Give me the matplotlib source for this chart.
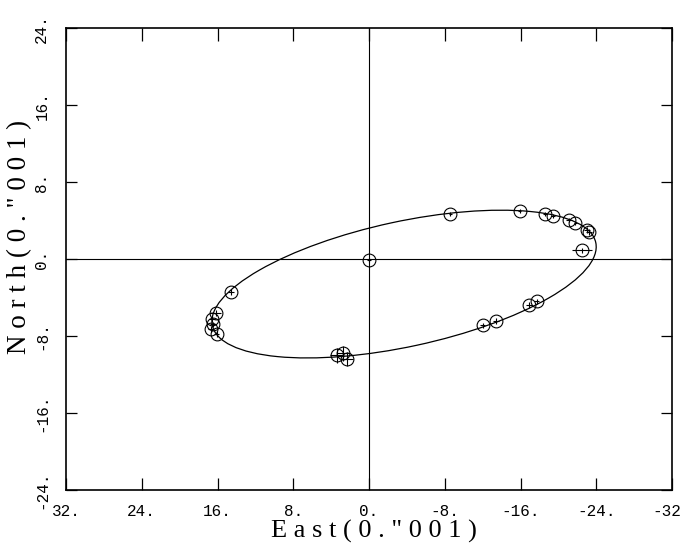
import matplotlib.pyplot as plt
from matplotlib.patches import Ellipse

# relative positions of the companion, units of 0.001 arcsec
east = [0.0, 14.6, 16.2, 16.6, 16.5, 16.7, 16.1, 3.4, 2.7, 2.3,
        -8.6, -15.9, -18.6, -19.4, -21.1, -21.8, -23.0, -23.2, -22.5,
        -17.7, -16.9, -13.4, -12.0]
north = [-0.1, -3.4, -5.6, -6.2, -6.8, -7.3, -7.8, -10.0, -9.8, -10.4,
         4.7, 5.0, 4.7, 4.5, 4.1, 3.7, 3.0, 2.8, 0.9,
         -4.4, -4.8, -6.4, -6.9]
east_err = [0.2, 0.3, 0.6, 0.3, 0.3, 0.3, 0.3, 0.7, 0.7, 0.6,
            0.2, 0.2, 0.2, 0.2, 0.3, 0.2, 0.3, 0.3, 1.1,
            0.3, 0.3, 0.3, 0.3]
north_err = [0.2, 0.3, 0.3, 0.3, 0.3, 0.3, 0.3, 0.8, 0.8, 0.7,
             0.2, 0.2, 0.2, 0.2, 0.2, 0.2, 0.3, 0.3, 0.3,
             0.3, 0.3, 0.3, 0.3]

# apparent orbit (fitted ellipse)
orbit_center = (-3.7, -2.6)
orbit_width = 41.4
orbit_height = 13.0
orbit_angle = -12.0

ticks = [32, 24, 16, 8, 0, -8, -16, -24, -32]
yticks = [-24, -16, -8, 0, 8, 16, 24]


def make_plot(out_file):
    fig = plt.figure(figsize=(6.84, 5.44), dpi=100)
    ax = fig.add_axes([0.0965, 0.0993, 0.886, 0.849])

    ax.set_xlim(32, -32)
    ax.set_ylim(-24, 24)

    ax.axhline(0, color='black', linewidth=0.8)
    ax.axvline(0, color='black', linewidth=0.8)

    orbit = Ellipse(orbit_center, orbit_width, orbit_height, angle=orbit_angle,
                    fill=False, edgecolor='black', linewidth=0.9)
    ax.add_patch(orbit)

    ax.errorbar(east, north, xerr=east_err, yerr=north_err, fmt='o',
                markersize=9.2, markerfacecolor='none', markeredgecolor='black',
                markeredgewidth=0.8, ecolor='black', elinewidth=0.8, capsize=0)

    mono = 'Liberation Mono'
    ax.set_xticks(ticks)
    ax.set_xticklabels([f"{t}." for t in ticks], family=mono, fontsize=11.5)
    ax.set_yticks(yticks)
    ax.set_yticklabels([f"{t}." for t in yticks], family=mono, fontsize=11.5,
                       rotation=90, va='center')
    ax.tick_params(axis='x', direction='in', length=9, width=0.9, pad=10,
                   top=True)
    ax.tick_params(axis='y', direction='in', length=8, width=0.9, pad=12,
                   right=True)
    for s in ax.spines.values():
        s.set_linewidth(1.2)

    ax.set_xlabel('E a s t ( 0 . " 0 0 1 )', family='Liberation Serif',
                  fontsize=19, va='center')
    ax.xaxis.set_label_coords(0.508, -0.09)
    ax.set_ylabel('N o r t h ( 0 . " 0 0 1 )', family='Liberation Serif',
                  fontsize=19.5, va='center')
    ax.yaxis.set_label_coords(-0.077, 0.548)

    fig.savefig(out_file, dpi=100)
    plt.close(fig)


if __name__ == "__main__":
    make_plot('out.png')
